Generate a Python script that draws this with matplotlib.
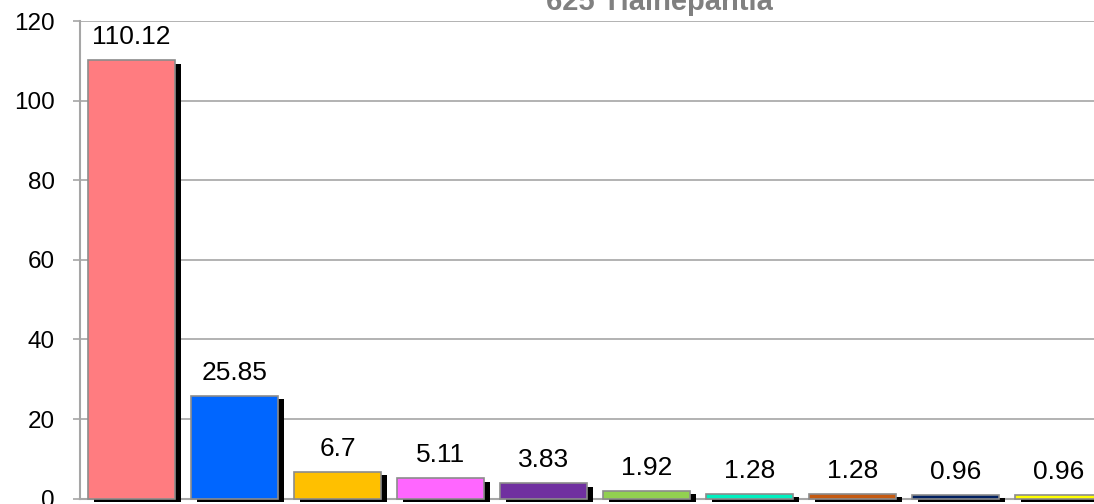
import matplotlib.pyplot as plt
import matplotlib.patheffects as pe

plt.rcParams['font.family'] = ['Liberation Sans', 'DejaVu Sans']

TITLE = "625 Tlalnepantla"
categories = ["c1", "c2", "c3", "c4", "c5", "c6", "c7", "c8", "c9", "c10"]
values = [110.12, 25.85, 6.7, 5.11, 3.83, 1.92, 1.28, 1.28, 0.96, 0.96]
labels = ["110.12", "25.85", "6.7", "5.11", "3.83", "1.92", "1.28", "1.28", "0.96", "0.96"]
colors = ["#FF7C80", "#0066FF", "#FFC000", "#FF66FF", "#7030A0",
          "#92D050", "#00F0C0", "#C55A11", "#002060", "#FFFF00"]
yticks = [0, 20, 40, 60, 80, 100, 120]

fig = plt.figure(figsize=(10.94, 5.04), dpi=100)
# plot area runs off the right edge like in the original
ax = fig.add_axes([80 / 1094, 5.4 / 504, 1030 / 1094, 477.5 / 504])

x = list(range(len(values)))
bars = ax.bar(x, values, width=0.845, color=colors, edgecolor="#8C8C8C",
              linewidth=1.2, zorder=3, clip_on=False)
for b in bars:
    b.set_path_effects([pe.SimplePatchShadow(offset=(4, -2.5), shadow_rgbFace="black", alpha=1.0),
                        pe.Normal()])

for xi, v, lab in zip(x, values, labels):
    ax.annotate(lab, (xi, v), xytext=(0, 11.5), textcoords="offset points",
                ha="center", va="baseline", fontsize=19, color="black")

ax.set_xlim(-0.5, len(values) - 0.5)
ax.set_ylim(0, 120)
ax.set_yticks(yticks)
ax.set_xticks([])
ax.grid(axis="y", color="#A6A6A6", linewidth=1.2, zorder=0)
ax.tick_params(axis="y", labelsize=17.5, length=5, width=1.2, color="#A6A6A6", pad=13)
for s in ["top", "right"]:
    ax.spines[s].set_visible(False)
for s in ["left", "bottom"]:
    ax.spines[s].set_color("#A6A6A6")
    ax.spines[s].set_linewidth(1.5)

fig.text(659 / 1094, 1 - 10 / 504, TITLE, ha="center", va="baseline",
         fontsize=21, fontweight="bold", color="#808080")

fig.savefig("out.png", dpi=100)
